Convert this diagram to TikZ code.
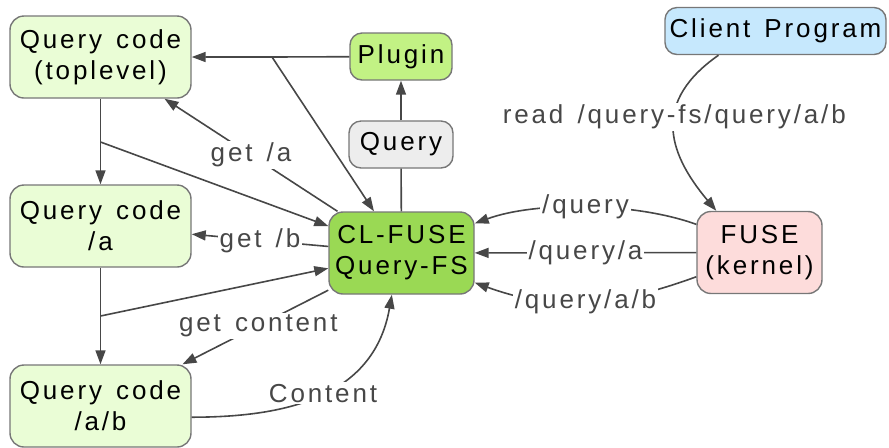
\documentclass[tikz,border=0pt]{standalone}
\usepackage{fontspec}
\setmainfont{Liberation Sans}[LetterSpace=11, WordSpace=1.4]
\usepackage{tikz}
\usetikzlibrary{arrows.meta}

\definecolor{codefill}{HTML}{EAFDD6}
\definecolor{pluginfill}{HTML}{C2F284}
\definecolor{fsfill}{HTML}{9AD954}
\definecolor{queryfill}{HTML}{EDEDED}
\definecolor{clientfill}{HTML}{C6E8FD}
\definecolor{fusefill}{HTML}{FDDCDB}
\definecolor{boxline}{HTML}{777777}
\definecolor{edgegray}{HTML}{474747}

\begin{document}
\begin{tikzpicture}[x=0.5pt, y=-0.5pt, font=\fontsize{13}{15.5}\selectfont,
  box/.style={draw=boxline, line width=0.7pt, rounded corners=7pt, align=center, inner sep=0pt},
  tall/.style={box, minimum height=41pt},
  flat/.style={box, minimum height=23.5pt, rounded corners=6pt},
  link/.style={draw=edgegray, line width=0.8pt, -{Triangle[length=7pt,width=5pt]}},
  elabel/.style={fill=white, text=edgegray, inner sep=1pt}]
  \useasboundingbox (0,0) rectangle (889,447);
  % boxes
  \node[tall, fill=codefill, minimum width=90.5pt] (top) at (100.5,57) {Query code\\(toplevel)};
  \node[tall, fill=codefill, minimum width=90.5pt] (qa) at (100.5,226) {Query code\\/a};
  \node[tall, fill=codefill, minimum width=90.5pt] (qab) at (100.5,406) {Query code\\/a/b};
  \node[flat, fill=pluginfill, minimum width=51pt] (plugin) at (401,56.5) {Plugin};
  \node[flat, fill=queryfill, minimum width=52pt] (query) at (401,144.5) {Query};
  \node[tall, fill=fsfill, minimum width=72.5pt] (clfuse) at (401.5,253) {CL-FUSE\\Query-FS};
  \node[flat, fill=clientfill, minimum width=110.5pt] (client) at (775.5,31) {Client Program};
  \node[tall, fill=fusefill, minimum width=62.5pt] (fuse) at (759.5,252.5) {FUSE\\(kernel)};
  \coordinate (j1) at (272,57);
  \coordinate (j2) at (100.5,142);
  \coordinate (j3) at (100.5,316);
  % connectors
  \draw[link] (plugin) -- (j1) -- (top);
  \draw[link] (j1) -- (clfuse);
  \draw[link] (query) -- (plugin);
  \draw[draw=edgegray, line width=0.8pt] (clfuse) -- (query);
  \draw[link] (clfuse) -- node[elabel] {get /a} (top);
  \draw[link] (top) -- (j2) -- (qa);
  \draw[link] (j2) -- (clfuse);
  \draw[link] (clfuse) -- node[elabel] {get /b} (qa);
  \draw[link] (qa) -- (j3) -- (qab);
  \draw[link] (j3) -- (clfuse);
  \draw[link] (clfuse) -- node[elabel, pos=0.48] {get content} (qab);
  \draw[link] (qab.-7) to[out=0, in=-100, looseness=1.1] node[elabel, pos=0.5] {Content} (clfuse.-103);
  \draw[link] (client.203) to[out=215, in=130, looseness=1.3] node[elabel, pos=0.43] {read /query-fs/query/a/b} (fuse.136);
  \draw[link] (fuse.156) to[out=160, in=20, looseness=0.75] node[elabel] {/query} (clfuse.22.5);
  \draw[link] (fuse) -- node[elabel] {/query/a} (clfuse);
  \draw[link] (fuse.201) to[out=200, in=-20] node[elabel] {/query/a/b} (clfuse.-22);
\end{tikzpicture}
\end{document}
